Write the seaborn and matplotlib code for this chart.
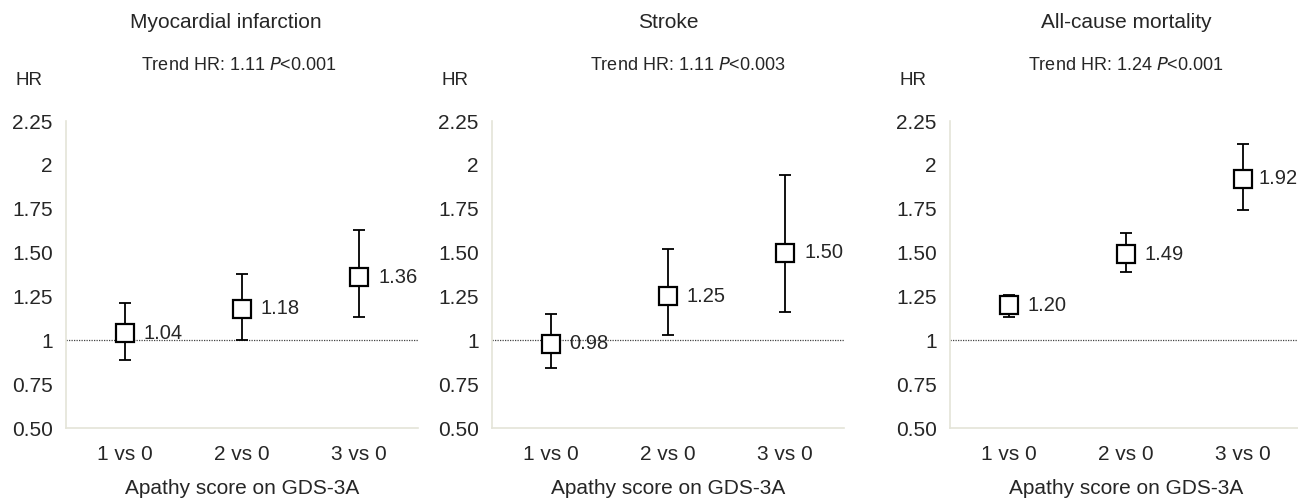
import numpy as np
import pandas as pd
import matplotlib
matplotlib.use("Agg")
import matplotlib.pyplot as plt
import seaborn as sns

# ------------------------------
# Data
# ------------------------------
groups = ["1 vs 0", "2 vs 0", "3 vs 0"]
outcomes = ["Myocardial infarction", "Stroke", "All-cause mortality"]
trend_hr = ["1.11", "1.11", "1.24"]
trend_p = ["0.001", "0.003", "0.001"]

mi_hr = [1.04, 1.18, 1.36]
mi_lo = [0.89, 1.00, 1.13]
mi_hi = [1.21, 1.38, 1.63]

stroke_hr = [0.98, 1.25, 1.50]
stroke_lo = [0.84, 1.03, 1.16]
stroke_hi = [1.15, 1.52, 1.94]

death_hr = [1.20, 1.49, 1.92]
death_lo = [1.13, 1.39, 1.74]
death_hi = [1.26, 1.61, 2.12]

hr_all = [mi_hr, stroke_hr, death_hr]
lo_all = [mi_lo, stroke_lo, death_lo]
hi_all = [mi_hi, stroke_hi, death_hi]

yticks = [0.5, 0.75, 1, 1.25, 1.5, 1.75, 2, 2.25]
ytick_labels = ["0.50", "0.75", "1", "1.25", "1.50", "1.75", "2", "2.25"]

sns.set_style("white")
plt.rcParams["font.family"] = ["Liberation Sans", "DejaVu Sans"]

fig = plt.figure(figsize=(12.98, 5.01), dpi=100)
spine_col = "#e4e4d8"

lefts = [66, 492, 950]
width = 352
title_dx = [-0.045, 0.0, 0.0]
trend_dx = [-0.01, 0.055, 0.0]
# the last label in the right panel sits closer to its marker
label_dx = [[0.16, 0.16, 0.16], [0.16, 0.16, 0.16], [0.16, 0.16, 0.125]]
for i, outcome in enumerate(outcomes):
    ax = fig.add_axes([lefts[i] / 1298, 1 - 428 / 501, width / 1298, 307 / 501])
    df = pd.DataFrame({"group": groups, "HR": hr_all[i]})
    yerr = np.array([np.array(hr_all[i]) - np.array(lo_all[i]),
                     np.array(hi_all[i]) - np.array(hr_all[i])])
    ax.axhline(1, color="#444444", linestyle=(0, (1, 1)), linewidth=0.9, zorder=1)
    ax.errorbar(range(3), hr_all[i], yerr=yerr, fmt="none", ecolor="black",
                elinewidth=1.3, capsize=4.5, capthick=1.3, zorder=2)
    sns.pointplot(data=df, x="group", y="HR", linestyle="none", marker="s",
                  color="black", markerfacecolor="white", markeredgecolor="black",
                  markersize=12.5, markeredgewidth=1.6, ax=ax, zorder=3)
    for j, v in enumerate(hr_all[i]):
        ax.text(j + label_dx[i][j], v, f"{v:.2f}", fontsize=14.5, va="center", ha="left")
    ax.set_xlim(-0.5, 2.5)
    ax.set_ylim(0.5, 2.25)
    ax.set_yticks(yticks)
    ax.set_yticklabels(ytick_labels)
    ax.tick_params(axis="y", labelsize=15, length=4.5, color=spine_col, width=1, pad=5)
    ax.tick_params(axis="x", labelsize=15, length=0, pad=12)
    for s in ["top", "right"]:
        ax.spines[s].set_visible(False)
    for s in ["left", "bottom"]:
        ax.spines[s].set_color(spine_col)
        ax.spines[s].set_linewidth(1.2)
    ax.set_xlabel("Apathy score on GDS-3A", fontsize=15, labelpad=11)
    ax.set_ylabel("")
    ax.text(-0.105, 1.133, "HR", transform=ax.transAxes, fontsize=13.5, ha="center",
            va="center")
    ax.text(0.5 + title_dx[i], 1.322, outcome, transform=ax.transAxes, fontsize=15,
            ha="center", va="center")
    ax.text(0.5 + trend_dx[i], 1.182, f"Trend HR: {trend_hr[i]} $\\it{{P}}$<{trend_p[i]}",
            transform=ax.transAxes, fontsize=13, ha="center", va="center")

fig.savefig("out.png", dpi=100)
